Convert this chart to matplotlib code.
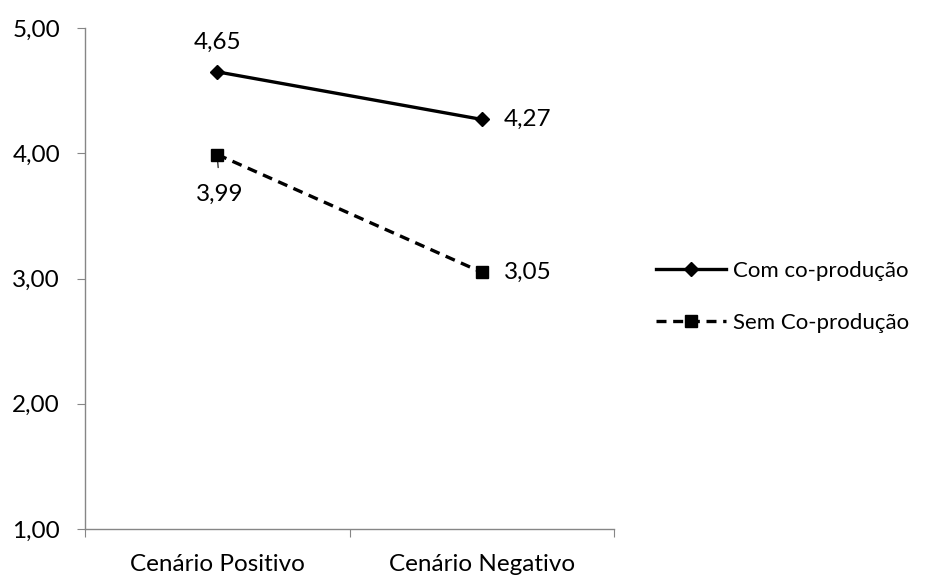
import matplotlib.pyplot as plt

# scenario means for both groups
cenarios = ['Cenário Positivo', 'Cenário Negativo']
com_coprod = [4.65, 4.27]
sem_coprod = [3.99, 3.05]
y_ticks = [1, 2, 3, 4, 5]

plt.rcParams['font.family'] = ['Lato', 'DejaVu Sans']

fig = plt.figure(figsize=(9.27, 5.75), dpi=100)
ax = fig.add_axes([85/927, 1 - 529/575, (614 - 85)/927, (529 - 28)/575])

x = list(range(len(cenarios)))
ax.plot(x, com_coprod, color='black', lw=2.4, marker='D', ms=7.5,
        label='Com co-produção')
ax.plot(x, sem_coprod, color='black', lw=2.4, ls=(0, (3, 2)), marker='s', ms=9,
        label='Sem Co-produção')

def fmt(v):
    return ('%.2f' % v).replace('.', ',')

fs = 17.5
# value labels
ax.annotate(fmt(com_coprod[0]), (0, com_coprod[0]), xytext=(0, 21),
            textcoords='offset points', ha='center', va='center', fontsize=fs)
ax.annotate(fmt(com_coprod[1]), (1, com_coprod[1]), xytext=(33, 0),
            textcoords='offset points', ha='center', va='center', fontsize=fs)
ax.annotate(fmt(sem_coprod[0]), (0, sem_coprod[0]), xytext=(2, -29),
            textcoords='offset points', ha='center', va='center', fontsize=fs,
            arrowprops=dict(arrowstyle='-', color='black', lw=0.8,
                            shrinkA=10, shrinkB=5))
ax.annotate(fmt(sem_coprod[1]), (1, sem_coprod[1]), xytext=(33, 0),
            textcoords='offset points', ha='center', va='center', fontsize=fs)

ax.set_xlim(-0.5, 1.5)
ax.set_ylim(1, 5)
ax.set_yticks(y_ticks)
ax.set_yticklabels([fmt(v) for v in y_ticks], fontsize=fs)
ax.set_xticks([-0.5, 0.5, 1.5])
ax.set_xticklabels([])
ax.set_xticks(x, minor=True)
ax.set_xticklabels(cenarios, minor=True, fontsize=fs)
ax.tick_params(axis='x', which='minor', length=0, pad=18)
ax.tick_params(axis='x', which='major', length=6, color='#868686', direction='out')
ax.tick_params(axis='y', length=6, color='#868686', pad=12)

for s in ['top', 'right']:
    ax.spines[s].set_visible(False)
for s in ['left', 'bottom']:
    ax.spines[s].set_color('#868686')
    ax.spines[s].set_linewidth(1)

# legend text a bit smaller so it fits in the right margin
fig.legend(loc='center left', bbox_to_anchor=(636/927, 1 - 297/575),
           frameon=False, fontsize=16, handlelength=3.15, handletextpad=0.3,
           labelspacing=1.42)

fig.savefig('out.png', dpi=100)
